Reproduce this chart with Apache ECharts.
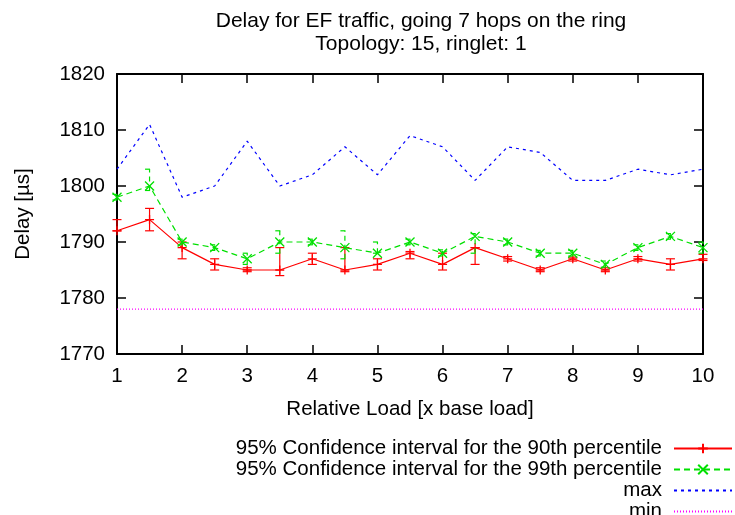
<!DOCTYPE html>
<html>
<head>
<meta charset="utf-8">
<script src="https://cdn.jsdelivr.net/npm/echarts@6/dist/echarts.min.js"></script>
<style>
html,body{margin:0;padding:0;background:#fff;}
#chart{width:735px;height:515px;}
</style>
</head>
<body>
<div id="chart"></div>
<script>
const titleText = 'Delay for EF traffic, going 7 hops on the ring\nTopology: 15, ringlet: 1';
const xName = 'Relative Load [x base load]';
const yName = 'Delay [µs]';
const seriesNames = ['95% Confidence interval for the 90th percentile', '95% Confidence interval for the 99th percentile', 'max', 'min'];

const loads = [1, 1.5, 2, 2.5, 3, 3.5, 4, 4.5, 5, 5.5, 6, 6.5, 7, 7.5, 8, 8.5, 9, 9.5, 10];

const p90 = [1792, 1794, 1789, 1786, 1785, 1785, 1787, 1785, 1786, 1788, 1786, 1789, 1787, 1785, 1787, 1785, 1787, 1786, 1787];
const p90Low = [1792, 1792, 1787, 1785, 1784.7, 1784, 1786, 1784.7, 1785, 1787, 1785, 1786, 1786.6, 1784.7, 1786.6, 1784.7, 1786.6, 1785, 1786.7];
const p90High = [1794, 1796, 1790, 1787, 1785.4, 1789, 1788, 1789, 1787, 1788.3, 1788, 1789, 1787.4, 1785.4, 1787.3, 1785.4, 1787.4, 1787, 1787.8];

const p99 = [1798, 1800, 1790, 1789, 1787, 1790, 1790, 1789, 1788, 1790, 1788, 1791, 1790, 1788, 1788, 1786, 1789, 1791, 1789];
const p99Low = [1797.5, 1799.2, 1789.5, 1788.5, 1786, 1788, 1789.5, 1787, 1788, 1789.5, 1787.5, 1788, 1789.5, 1787.5, 1787.5, 1785.5, 1788.5, 1790.5, 1788];
const p99High = [1798.5, 1803, 1790.5, 1789.5, 1788, 1792, 1790.5, 1792, 1790, 1790.5, 1788.6, 1791.5, 1790.5, 1788.5, 1788.5, 1786.6, 1789.5, 1791.5, 1790];

const maxDelay = [1803, 1811, 1798, 1800, 1808, 1800, 1802, 1807, 1802, 1809, 1807, 1801, 1807, 1806, 1801, 1801, 1803, 1802, 1803];
const minDelay = [1778, 1778, 1778, 1778, 1778, 1778, 1778, 1778, 1778, 1778, 1778, 1778, 1778, 1778, 1778, 1778, 1778, 1778, 1778];

const FONT = '"Liberation Sans", Arial, sans-serif';
const RED = '#ff0000', GREEN = '#00e000', BLUE = '#0000ff', MAGENTA = '#ff00ff';
const AXIS_FONT = 20.5;

function pairs(ys) { return loads.map((x, i) => [x, ys[i]]); }
function triples(lo, hi) { return loads.map((x, i) => [x, lo[i], hi[i]]); }

function errRender(color, dash) {
  return function (params, api) {
    const x = api.value(0), lo = api.value(1), hi = api.value(2);
    const a = api.coord([x, lo]), b = api.coord([x, hi]);
    const w = 4.5;
    const st = { stroke: color, lineWidth: 1.2, lineDash: dash };
    return {
      type: 'group',
      children: [
        { type: 'line', shape: { x1: a[0], y1: a[1], x2: b[0], y2: b[1] }, style: st },
        { type: 'line', shape: { x1: a[0] - w, y1: a[1], x2: a[0] + w, y2: a[1] }, style: st },
        { type: 'line', shape: { x1: b[0] - w, y1: b[1], x2: b[0] + w, y2: b[1] }, style: st }
      ]
    };
  };
}

const axisCommon = {
  type: 'value',
  splitLine: { show: false },
  axisLine: { show: true, onZero: false, lineStyle: { color: '#000', width: 2 } },
  axisTick: { show: true, inside: true, length: 9, lineStyle: { color: '#000', width: 1.5 } }
};

const legendRowTops = [438, 459, 480, 501];
const legends = seriesNames.map((name, i) => {
  const lg = {
    orient: 'horizontal', right: 2, top: legendRowTops[i], align: 'right', padding: 0,
    itemWidth: 58, itemHeight: 12, itemGap: 0,
    textStyle: { fontFamily: FONT, fontSize: AXIS_FONT, color: '#000', lineHeight: 21, padding: [0, 7, 0, 0] },
    selectedMode: false,
    data: [name]
  };
  if (i >= 2) lg.itemStyle = { opacity: 0 };
  return lg;
});

const chart = echarts.init(document.getElementById('chart'), null, { renderer: 'canvas' });
chart.setOption({
  animation: false,
  backgroundColor: '#fff',
  textStyle: { fontFamily: FONT },
  title: {
    text: titleText,
    left: 416, top: 5, textAlign: 'center',
    textStyle: { fontFamily: FONT, fontSize: 21, fontWeight: 'normal', color: '#000', lineHeight: 23 }
  },
  grid: { left: 117, right: 32, top: 74, bottom: 161 },
  legend: legends,
  xAxis: [
    Object.assign({}, axisCommon, {
      min: 1, max: 10, interval: 1, position: 'bottom',
      axisLabel: { color: '#000', fontSize: AXIS_FONT, fontFamily: FONT, margin: 12 },
      name: xName, nameLocation: 'middle', nameGap: 45,
      nameTextStyle: { color: '#000', fontSize: AXIS_FONT, fontFamily: FONT }
    }),
    Object.assign({}, axisCommon, {
      min: 1, max: 10, interval: 1, position: 'top', axisLabel: { show: false }
    })
  ],
  yAxis: [
    Object.assign({}, axisCommon, {
      min: 1770, max: 1820, interval: 10, position: 'left',
      axisLabel: { color: '#000', fontSize: AXIS_FONT, fontFamily: FONT, margin: 12, formatter: v => String(v) },
      name: yName, nameLocation: 'middle', nameGap: 83,
      nameTextStyle: { color: '#000', fontSize: AXIS_FONT, fontFamily: FONT }
    }),
    Object.assign({}, axisCommon, {
      min: 1770, max: 1820, interval: 10, position: 'right', axisLabel: { show: false }
    })
  ],
  series: [
    {
      name: 'err90', type: 'custom', clip: false, z: 2,
      renderItem: errRender(RED, null),
      data: triples(p90Low, p90High)
    },
    {
      name: seriesNames[0], type: 'line', z: 3,
      data: pairs(p90),
      symbol: 'path://M0,5L10,5M5,0L5,10', symbolSize: 9, showSymbol: true,
      itemStyle: { color: 'rgba(0,0,0,0)', borderColor: RED, borderWidth: 1.3 },
      lineStyle: { color: RED, width: 1.2 }
    },
    {
      name: 'err99', type: 'custom', clip: false, z: 4,
      renderItem: errRender(GREEN, [5, 4]),
      data: triples(p99Low, p99High)
    },
    {
      name: seriesNames[1], type: 'line', z: 5,
      data: pairs(p99),
      symbol: 'path://M0,0L10,10M0,10L10,0', symbolSize: 9, showSymbol: true,
      itemStyle: { color: 'rgba(0,0,0,0)', borderColor: GREEN, borderWidth: 1.3 },
      lineStyle: { color: GREEN, width: 1.2, type: [6, 4] }
    },
    {
      name: seriesNames[2], type: 'line', z: 6,
      data: pairs(maxDelay), symbol: 'none',
      itemStyle: { color: BLUE },
      lineStyle: { color: BLUE, width: 1.2, type: [3, 4] }
    },
    {
      name: seriesNames[3], type: 'line', z: 7,
      data: pairs(minDelay), symbol: 'none',
      itemStyle: { color: MAGENTA },
      lineStyle: { color: MAGENTA, width: 1.2, type: [1, 2] }
    }
  ]
});
</script>
</body>
</html>
